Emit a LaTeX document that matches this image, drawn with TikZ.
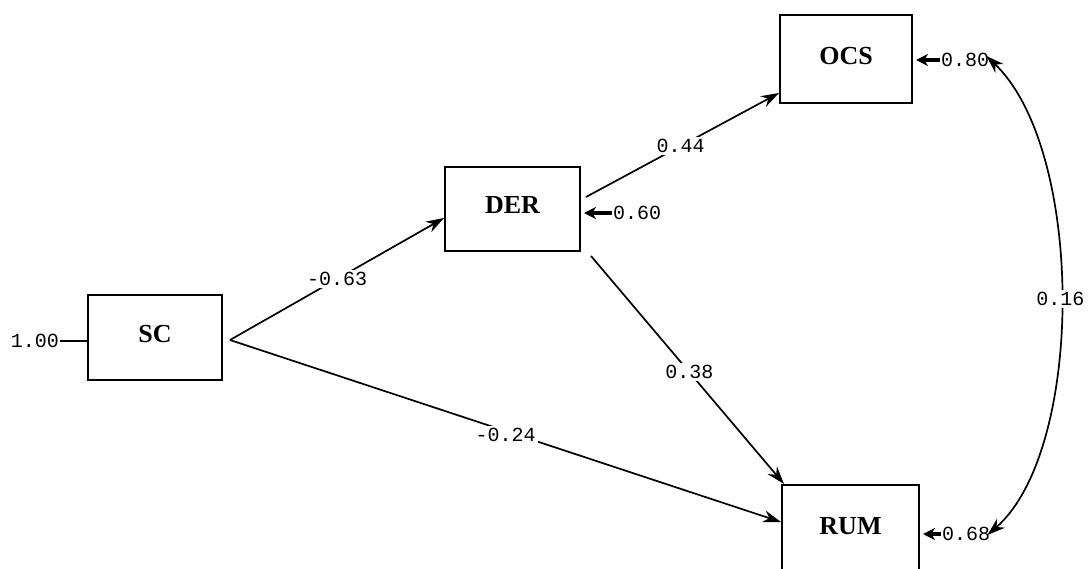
\documentclass[tikz,border=0pt]{standalone}
\usepackage{fontspec}
\setmainfont{Liberation Serif}
\setmonofont{Liberation Mono}
\usetikzlibrary{arrows.meta}
\tikzset{
  var/.style={draw=black, line width=2pt, fill=white, inner sep=0pt,
    font=\fontsize{26}{28}\selectfont\bfseries},
  path/.style={line width=1.7pt, -{Stealth[length=18pt,width=12pt]}},
  err/.style={line width=3.2pt, -{Stealth[length=12pt,width=12pt]}},
  val/.style={font=\ttfamily\fontsize{20}{22}\selectfont, inner sep=1pt},
  lab/.style={val, fill=white, inner sep=2pt}
}
\begin{document}
\begin{tikzpicture}[x=1pt,y=-1pt]
\useasboundingbox (0,0) rectangle (1091,569);
\clip (0,0) rectangle (1091,569);
% boxes
\node[var, minimum width=134pt, minimum height=85pt] (sc) at (155,337.5) {\raisebox{7pt}{SC}};
\node[var, minimum width=135pt, minimum height=84pt] (der) at (512.5,209) {\raisebox{8pt}{DER}};
\node[var, minimum width=132pt, minimum height=88pt] (ocs) at (846,59) {\raisebox{7pt}{OCS}};
\node[var, minimum width=137pt, minimum height=88pt] (rum) at (850.5,529) {\raisebox{7pt}{RUM}};
% variances
\node[val, anchor=east] (v1) at (60,341) {1.00};
\draw[line width=1.8pt] (v1.east) -- (sc.west |- v1.east);
\node[val, anchor=west] (v2) at (612,213) {0.60};
\draw[err] (v2.west) -- ([xshift=3pt]der.east |- v2.west);
\node[val, anchor=west] (v3) at (940,60) {0.80};
\draw[err] (v3.west) -- ([xshift=3pt]ocs.east |- v3.west);
\node[val, anchor=west] (v4) at (941,534) {0.68};
\draw[err] (v4.west) -- ([xshift=3pt]rum.east |- v4.west);
% structural paths
\coordinate (s0) at ([xshift=7pt,yshift=-2.5pt]sc.east);
\draw[path] (s0) -- node[lab, pos=0.5] {-0.63} ([yshift=-9pt]der.west);
\draw[path] (s0) -- node[lab, pos=0.5, yshift=-4pt] {-0.24} ([yshift=7pt]rum.west);
\draw[path] ([xshift=5pt,yshift=12pt]der.east) -- node[lab, pos=0.49] {0.44} ([yshift=11pt]ocs.south west);
\draw[path] ([xshift=10pt,yshift=-4pt]der.south east) -- node[lab, pos=0.51] {0.38} ([xshift=3pt]rum.north west);
% covariance
\coordinate (c1) at ([xshift=-4pt,yshift=4pt]v3.east);
\coordinate (c2) at ([xshift=-4pt,yshift=-1pt]v4.east);
\draw[line width=1.7pt, {Stealth[length=18pt,width=12pt]}-{Stealth[length=18pt,width=12pt]}]
  (c1) .. controls (1085,150) and (1085,450) .. node[lab, pos=0.5] {0.16} (c2);
\end{tikzpicture}
\end{document}
